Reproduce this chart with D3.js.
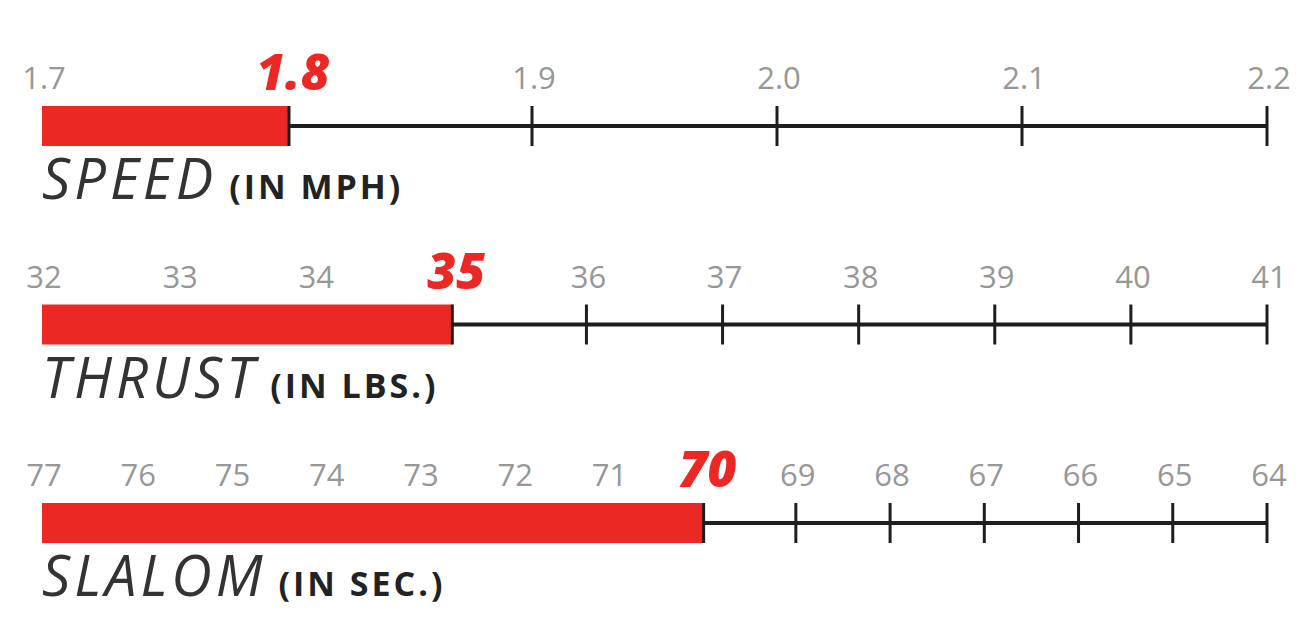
<!DOCTYPE html>
<html>
<head>
<meta charset="utf-8">
<script src="https://cdn.jsdelivr.net/npm/d3@7/dist/d3.min.js"></script>
<style>
  html, body { margin: 0; padding: 0; background: #fff; }
  svg { display: block; }
</style>
</head>
<body>
<svg id="chart" width="1310" height="634"></svg>
<script>
// ---- data ----
const categories = ["SPEED", "THRUST", "SLALOM"];
const units = ["(IN MPH)", "(IN LBS.)", "(IN SEC.)"];
const values = [1.8, 35, 70];
const speedTicks = [1.7, 1.8, 1.9, 2.0, 2.1, 2.2];
const thrustTicks = [32, 33, 34, 35, 36, 37, 38, 39, 40, 41];
const slalomTicks = [77, 76, 75, 74, 73, 72, 71, 70, 69, 68, 67, 66, 65, 64];
const tickSets = [speedTicks, thrustTicks, slalomTicks];
const tickFormats = [d3.format(".1f"), d3.format("d"), d3.format("d")];

// ---- layout ----
const svg = d3.select("#chart");
const x0 = 42, x1 = 1267;
const rowY = d3.scalePoint().domain(categories).range([126, 523]);
const red = "#ec2824";
const lineColor = "#1e1e1e";

categories.forEach((cat, i) => {
  const ticks = tickSets[i];
  const x = d3.scaleLinear()
    .domain([ticks[0], ticks[ticks.length - 1]])
    .range([x0, x1]);
  const y = rowY(cat);
  const g = svg.append("g");
  const v = values[i];
  const fmt = tickFormats[i];
  const barH = 40;

  // axis line
  g.append("line")
    .attr("x1", x(ticks[0])).attr("x2", x(ticks[ticks.length - 1]))
    .attr("y1", y).attr("y2", y)
    .attr("stroke", lineColor).attr("stroke-width", 4);

  // bar
  g.append("rect")
    .attr("x", x(ticks[0]))
    .attr("y", y - barH / 2)
    .attr("width", x(v) - x(ticks[0]) + 2)
    .attr("height", barH)
    .attr("fill", red);

  // ticks at and beyond the value
  const dir = Math.sign(ticks[ticks.length - 1] - ticks[0]);
  g.selectAll("line.tick")
    .data(ticks.filter(t => (t - v) * dir >= -1e-9))
    .enter().append("line")
    .attr("class", "tick")
    .attr("x1", d => x(d) + (Math.abs(d - v) < 1e-9 ? 2 : 0))
    .attr("x2", d => x(d) + (Math.abs(d - v) < 1e-9 ? 2 : 0))
    .attr("y1", y - 20).attr("y2", y + 20)
    .attr("stroke", lineColor).attr("stroke-width", 3);

  // tick labels
  g.selectAll("text.tl")
    .data(ticks.filter(t => Math.abs(t - v) > 1e-9))
    .enter().append("text")
    .attr("class", "tl")
    .attr("x", d => x(d) + 2)
    .attr("y", y - 37)
    .attr("text-anchor", "middle")
    .attr("font-family", "'Open Sans', sans-serif")
    .attr("font-size", 31)
    .attr("fill", "#979797")
    .text(d => fmt(d));

  // value label
  g.append("text")
    .attr("x", x(v) + 6)
    .attr("y", y - 36)
    .attr("text-anchor", "middle")
    .attr("font-family", "'Open Sans', sans-serif")
    .attr("font-size", 50)
    .attr("font-weight", 800)
    .attr("font-style", "italic")
    .attr("fill", red)
    .text(fmt(v));

  // category label
  const lab = g.append("text")
    .attr("x", x0)
    .attr("y", y + 73)
    .attr("font-family", "'Open Sans', sans-serif")
    .attr("fill", "#333");
  lab.append("tspan")
    .attr("font-size", 56)
    .attr("font-style", "italic")
    .attr("letter-spacing", 4)
    .text(cat);
  lab.append("tspan")
    .attr("dx", 12)
    .attr("font-size", 34)
    .attr("font-weight", 700)
    .attr("letter-spacing", 3)
    .attr("fill", "#222")
    .text(units[i]);
});
</script>
</body>
</html>
